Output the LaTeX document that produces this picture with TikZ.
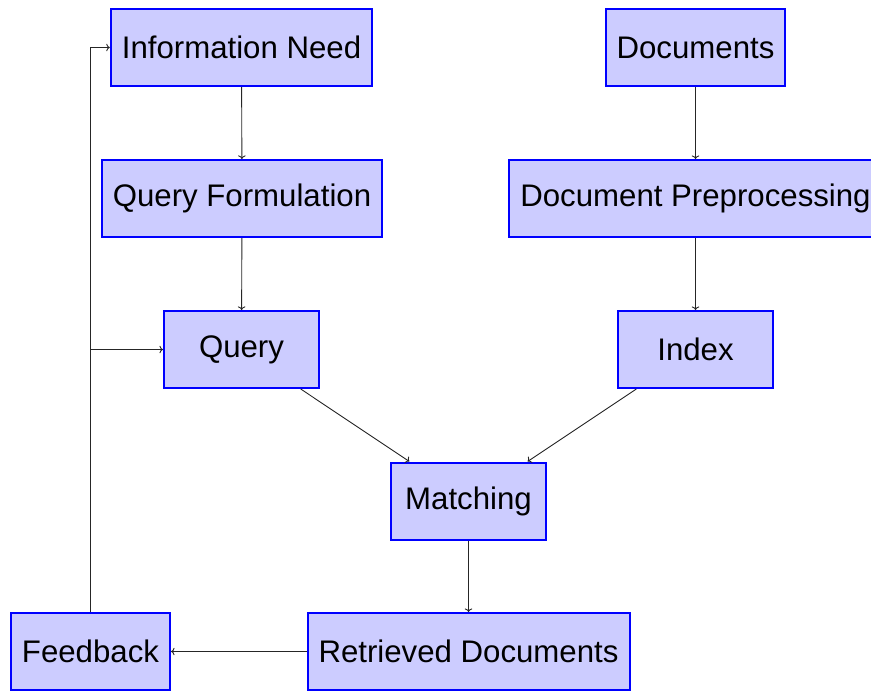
\documentclass[tikz,border=0pt]{standalone}
\usepackage{fontspec}
\setmainfont{Liberation Sans}
\usetikzlibrary{arrows.meta}
\begin{document}
\begin{tikzpicture}[x=1pt,y=-1pt,
  box/.style={draw=blue, fill=blue!20, line width=2pt, minimum width=155pt, minimum height=77pt, inner xsep=11pt, font=\fontsize{31.2}{37}\selectfont},
  conn/.style={->, line width=0.9pt, draw=black!85}]
\useasboundingbox (0,0) rectangle (871,691);
\node[box] (need) at (241.5,47.5) {Information Need};
\node[box] (docs) at (695.5,47.5) {Documents};
\node[box] (qf) at (242,198.5) {Query Formulation};
\node[box] (prep) at (695.5,198.5) {Document Preprocessing};
\node[box] (query) at (241.5,349.5) {Query};
\node[box] (index) at (695.5,349.5) {Index};
\node[box] (match) at (468.5,501) {Matching};
\node[box] (feedback) at (90.5,651.5) {Feedback};
\node[box] (retr) at (468.5,651.5) {Retrieved Documents};
\draw[conn] (need) -- (qf);
\draw[conn] (qf) -- (query);
\draw[conn] (docs) -- (prep);
\draw[conn] (prep) -- (index);
\draw[conn] (query) -- (match);
\draw[conn] (index) -- (match);
\draw[conn] (match) -- (retr);
\draw[conn] (retr) -- (feedback);
\draw[conn] (feedback) -- (feedback |- need) -- (need);
\draw[conn] (feedback |- query) -- (query);
\end{tikzpicture}
\end{document}
